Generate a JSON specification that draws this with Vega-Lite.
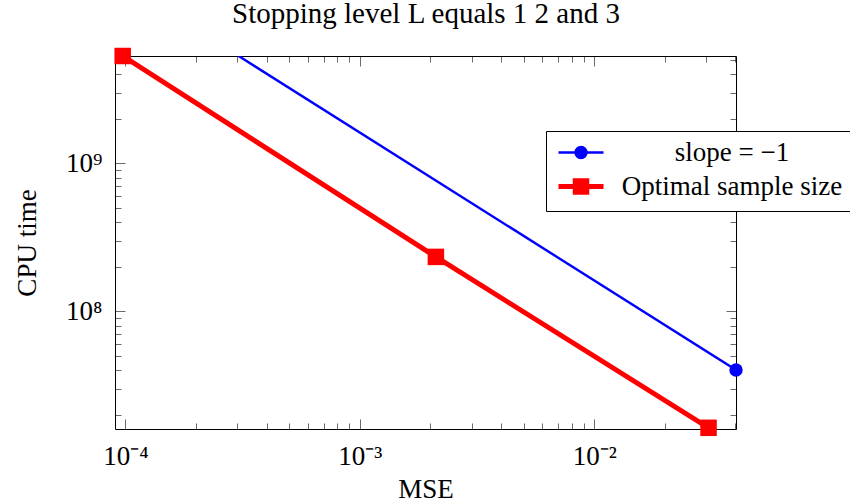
{
  "$schema": "https://vega.github.io/schema/vega-lite/v6.json",
  "autosize": "none",
  "width": 621,
  "height": 373,
  "padding": {"left": 115, "top": 56, "right": 114, "bottom": 75},
  "background": "white",
  "config": {
    "view": {"stroke": null},
    "axis": {
      "grid": false,
      "domainColor": "black",
      "domainWidth": 1,
      "tickColor": "#444444",
      "tickWidth": 0.8,
      "labelFont": "Liberation Serif",
      "labelFontSize": 27,
      "labelColor": "black",
      "titleFont": "Liberation Serif",
      "titleFontSize": 27,
      "titleFontWeight": "normal",
      "titleColor": "black",
      "labelOverlap": false,
      "labelFlush": false
    }
  },
  "data": {
    "values": [
      {"series": "slope = −1", "x": 0.000304, "y": 5310000000},
      {"series": "slope = −1", "x": 0.0402, "y": 40100000},
      {"series": "Optimal sample size", "x": 0.0000974, "y": 5310000000},
      {"series": "Optimal sample size", "x": 0.00211, "y": 233000000},
      {"series": "Optimal sample size", "x": 0.0307, "y": 16300000}
    ]
  },
  "resolve": {"axis": {"x": "independent", "y": "independent"}},
  "layer": [
    {
      "mark": {"type": "line", "clip": true},
      "encoding": {
        "x": {
          "field": "x", "type": "quantitative",
          "scale": {"type": "log", "domain": [0.0000903, 0.0402], "nice": false},
          "axis": {
            "orient": "bottom",
            "title": "MSE",
            "titlePadding": 3,
            "values": [0.0001, 0.0002, 0.0003, 0.0004, 0.0005, 0.0006, 0.0007, 0.0008, 0.0009, 0.001, 0.002, 0.003, 0.004, 0.005, 0.006, 0.007, 0.008, 0.009, 0.01, 0.02, 0.03, 0.04],
            "labelExpr": "datum.value == 0.0001 ? '10⁻⁴' : datum.value == 0.001 ? '10⁻³' : datum.value == 0.01 ? '10⁻²' : ''",
            "tickSize": {"condition": {"test": "datum.value == 0.0001 || datum.value == 0.001 || datum.value == 0.01", "value": -10}, "value": -6},
            "labelPadding": 24
          }
        },
        "y": {
          "field": "y", "type": "quantitative",
          "scale": {"type": "log", "domain": [16000000, 5310000000], "nice": false},
          "axis": {
            "orient": "left",
            "title": "CPU time",
            "titlePadding": 24,
            "values": [20000000, 30000000, 40000000, 50000000, 60000000, 70000000, 80000000, 90000000, 100000000, 200000000, 300000000, 400000000, 500000000, 600000000, 700000000, 800000000, 900000000, 1000000000, 2000000000, 3000000000, 4000000000, 5000000000],
            "labelExpr": "datum.value == 100000000 ? '10⁸' : datum.value == 1000000000 ? '10⁹' : ''",
            "tickSize": {"condition": {"test": "datum.value == 100000000 || datum.value == 1000000000", "value": -10}, "value": -6},
            "labelPadding": 23
          }
        },
        "color": {
          "field": "series", "type": "nominal",
          "scale": {"domain": ["slope = −1", "Optimal sample size"], "range": ["#0000ff", "#ff0000"]},
          "legend": {
            "orient": "none",
            "legendX": 431,
            "legendY": 75,
            "title": null,
            "labelFont": "Liberation Serif",
            "labelFontSize": 27,
            "labelColor": "black",
            "labelAlign": "center",
            "labelOffset": 151,
            "labelLimit": 400,
            "strokeColor": "black",
            "fillColor": "white",
            "padding": 8,
            "rowPadding": 4,
            "symbolSize": 400,
            "cornerRadius": 0,
            "encode": {
              "symbols": {
                "update": {
                  "shape": {"signal": "datum.value == 'slope = −1' ? 'M-0.9,0H3.6M1.9,0A0.55,0.55,0,1,1,0.8,0A0.55,0.55,0,1,1,1.9,0Z' : 'M-0.9,0H3.6M0.775,-0.575H1.925V0.575H0.775Z'"},
                  "strokeWidth": {"signal": "datum.value == 'slope = −1' ? 2.4 : 5"},
                  "fill": {"signal": "datum.value == 'slope = −1' ? '#0000ff' : '#ff0000'"},
                  "stroke": {"signal": "datum.value == 'slope = −1' ? '#0000ff' : '#ff0000'"}
                }
              }
            }
          }
        },
        "strokeWidth": {
          "field": "series", "type": "nominal",
          "scale": {"domain": ["slope = −1", "Optimal sample size"], "range": [2.4, 5]},
          "legend": null
        }
      }
    },
    {
      "transform": [{"filter": "datum.series == 'slope = −1' && datum.x > 0.01"}],
      "mark": {"type": "point", "filled": true, "opacity": 1, "shape": "circle", "size": 180, "color": "#0000ff"},
      "encoding": {
        "x": {
          "field": "x", "type": "quantitative",
          "scale": {"type": "log", "domain": [0.0000903, 0.0402], "nice": false},
          "axis": {
            "orient": "top",
            "title": "Stopping level L equals 1 2 and 3",
            "titleFontSize": 29,
            "titlePadding": 27,
            "labels": false,
            "values": [0.0001, 0.0002, 0.0003, 0.0004, 0.0005, 0.0006, 0.0007, 0.0008, 0.0009, 0.001, 0.002, 0.003, 0.004, 0.005, 0.006, 0.007, 0.008, 0.009, 0.01, 0.02, 0.03, 0.04],
            "tickSize": {"condition": {"test": "datum.value == 0.0001 || datum.value == 0.001 || datum.value == 0.01", "value": -10}, "value": -6}
          }
        },
        "y": {
          "field": "y", "type": "quantitative",
          "scale": {"type": "log", "domain": [16000000, 5310000000], "nice": false},
          "axis": {
            "orient": "right",
            "title": null,
            "labels": false,
            "values": [20000000, 30000000, 40000000, 50000000, 60000000, 70000000, 80000000, 90000000, 100000000, 200000000, 300000000, 400000000, 500000000, 600000000, 700000000, 800000000, 900000000, 1000000000, 2000000000, 3000000000, 4000000000, 5000000000],
            "tickSize": {"condition": {"test": "datum.value == 100000000 || datum.value == 1000000000", "value": -10}, "value": -6}
          }
        }
      }
    },
    {
      "transform": [{"filter": "datum.series == 'Optimal sample size'"}],
      "mark": {"type": "point", "filled": true, "opacity": 1, "shape": "square", "size": 272, "color": "#ff0000"},
      "encoding": {
        "x": {
          "field": "x", "type": "quantitative",
          "scale": {"type": "log", "domain": [0.0000903, 0.0402], "nice": false},
          "axis": null
        },
        "y": {
          "field": "y", "type": "quantitative",
          "scale": {"type": "log", "domain": [16000000, 5310000000], "nice": false},
          "axis": null
        }
      }
    }
  ]
}
